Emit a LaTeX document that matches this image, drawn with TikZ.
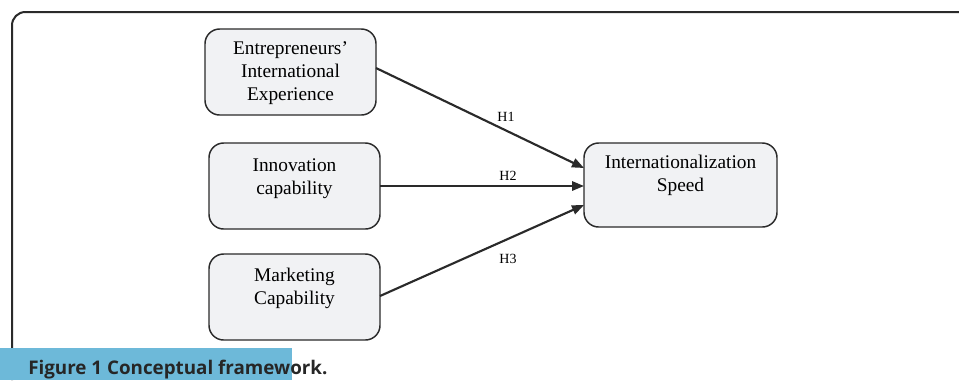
\documentclass[tikz,border=0pt]{standalone}
\usepackage{fontspec}
\setmainfont{Liberation Serif}
\newfontfamily\capfont{Open Sans}
\usetikzlibrary{arrows.meta}
\definecolor{boxfill}{HTML}{F1F2F4}
\definecolor{boxline}{HTML}{2A2A2A}
\definecolor{capblue}{HTML}{6DB9D9}
\begin{document}
\begin{tikzpicture}[x=0.75pt,y=-0.75pt,
  cbox/.style={draw=boxline,line width=1.1pt,fill=boxfill,rounded corners=11pt},
  ctext/.style={align=center,font=\fontsize{14.5}{17.3}\selectfont,anchor=north,inner sep=0pt},
  link/.style={draw=boxline,line width=1.6pt,-{Triangle[length=9pt,width=7pt]}},
  hlab/.style={font=\fontsize{10.5}{12}\selectfont,inner sep=0pt}]
\useasboundingbox (0,0) rectangle (959,380);
% frame
\draw[boxline,line width=1.5pt,rounded corners=10pt] (12,380) -- (12,12) -- (959,12);
% boxes
\path[cbox] (205,29) rectangle (376,115);
\node[ctext] (b1) at (290.5,41) {Entrepreneurs'\\International\\Experience};
\coordinate (b1e) at (376,68);
\path[cbox] (209,143) rectangle (380,229);
\node[ctext] (b2) at (294.5,158) {Innovation\\capability};
\coordinate (b2e) at (380,186);
\path[cbox] (209,254) rectangle (380,340);
\node[ctext] (b3) at (294.5,268) {Marketing\\Capability};
\coordinate (b3e) at (380,296);
\path[cbox] (584,143) rectangle (777,227);
\node[ctext] (t) at (680.5,155) {Internationalization\\Speed};
\coordinate (t1) at (584,168);
\coordinate (t2) at (584,186);
\coordinate (t3) at (584,205);
% arrows
\draw[link] (b1e) -- (t1);
\draw[link] (b2e) -- (t2);
\draw[link] (b3e) -- (t3);
\node[hlab] (h1) at (506,117) {H1};
\node[hlab] (h2) at (508,176) {H2};
\node[hlab] (h3) at (508,259) {H3};
% caption
\fill[capblue] (0,348) rectangle (292,380);
\node[anchor=base west,inner sep=0pt,font=\capfont\bfseries\fontsize{14.1}{16}\selectfont,text=black!85] (cap) at (28,374) {Figure 1 Conceptual framework.};
\end{tikzpicture}
\end{document}
